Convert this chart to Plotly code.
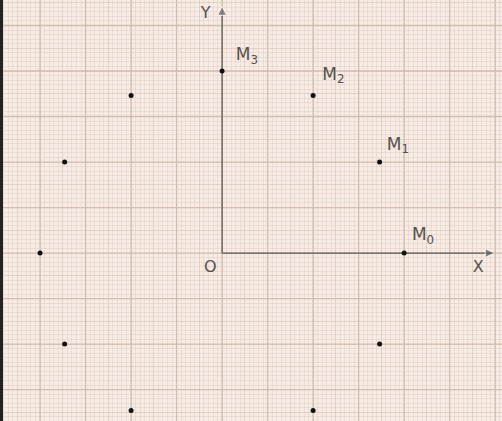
import math
import plotly.graph_objects as go

# Points (units of the grid; 1 unit = 1 bold square)
pt_x = [4, 3.46, 2, 0, -2, -3.46, -4, -3.46, -2, 2, 3.46]
pt_y = [0, 2, 3.46, 4, 3.46, 2, 0, -2, -3.46, -3.46, -2]

label_text = ["M<sub>0</sub>", "M<sub>1</sub>", "M<sub>2</sub>", "M<sub>3</sub>"]
label_x = [4.17, 3.62, 2.2, 0.3]
label_y = [0.38, 2.36, 3.9, 4.33]

axis_text = ["O", "X", "Y"]
axis_text_x = [-0.26, 5.63, -0.36]
axis_text_y = [-0.33, -0.33, 5.26]

XR = [-4.88, 6.15]
YR = [-3.69, 5.56]

fig = go.Figure()

axis_col = "#5f5b58"
# positive half-axes with arrow tips
fig.add_trace(go.Scatter(x=[0, 0], y=[0, 5.42], mode="lines+markers",
                         line=dict(color=axis_col, width=1.3),
                         marker=dict(symbol=["circle", "arrow-up"], size=[0, 9], color=axis_col),
                         hoverinfo="skip", showlegend=False))
fig.add_trace(go.Scatter(x=[0, 5.98], y=[0, 0], mode="lines+markers",
                         line=dict(color=axis_col, width=1.3),
                         marker=dict(symbol=["circle", "arrow-right"], size=[0, 9], color=axis_col),
                         hoverinfo="skip", showlegend=False))

fig.add_trace(go.Scatter(
    x=pt_x, y=pt_y, mode="markers",
    marker=dict(color="#111111", size=5),
    hoverinfo="skip", showlegend=False))

fig.add_trace(go.Scatter(
    x=label_x, y=label_y, mode="text", text=label_text, textposition="middle right",
    textfont=dict(family="DejaVu Sans", size=17, color="#55514f"),
    hoverinfo="skip", showlegend=False))
fig.add_trace(go.Scatter(
    x=axis_text_x, y=axis_text_y, mode="text", text=axis_text, textposition="middle center",
    textfont=dict(family="DejaVu Sans", size=16, color="#55514f"),
    hoverinfo="skip", showlegend=False))

grid_minor = "rgba(226,198,190,0.4)"
grid_mid = "rgba(214,190,174,0.55)"
grid_major = "rgba(188,166,146,0.65)"

for upd in (fig.update_xaxes, fig.update_yaxes):
    upd(showticklabels=False, zeroline=False,
        showgrid=True, dtick=0.5, tick0=0, gridcolor=grid_mid, gridwidth=1,
        minor=dict(dtick=0.1, tick0=0, showgrid=True, gridcolor=grid_minor, gridwidth=0.6),
        showline=False, fixedrange=True)
fig.update_xaxes(range=XR)
fig.update_yaxes(range=YR)

shapes = []
for k in range(math.ceil(XR[0]), math.floor(XR[1]) + 1):
    shapes.append(dict(type="line", xref="x", yref="paper", x0=k, x1=k, y0=0, y1=1,
                       line=dict(color=grid_major, width=1.3), layer="below"))
for k in range(math.ceil(YR[0]), math.floor(YR[1]) + 1):
    shapes.append(dict(type="line", xref="paper", yref="y", x0=0, x1=1, y0=k, y1=k,
                       line=dict(color=grid_major, width=1.3), layer="below"))
# left dark border of the photo
shapes.append(dict(type="rect", xref="paper", yref="paper", x0=0, x1=0.006, y0=0, y1=1,
                   fillcolor="#222222", line=dict(width=0)))

fig.update_layout(
    width=502, height=421,
    margin=dict(l=0, r=0, t=0, b=0),
    paper_bgcolor="#f6ece4", plot_bgcolor="#f6ece4",
    shapes=shapes,
    showlegend=False,
)

fig.write_html("out.html", config={"displayModeBar": False},
               post_script="document.body.style.margin='0';document.body.style.padding='0';")
